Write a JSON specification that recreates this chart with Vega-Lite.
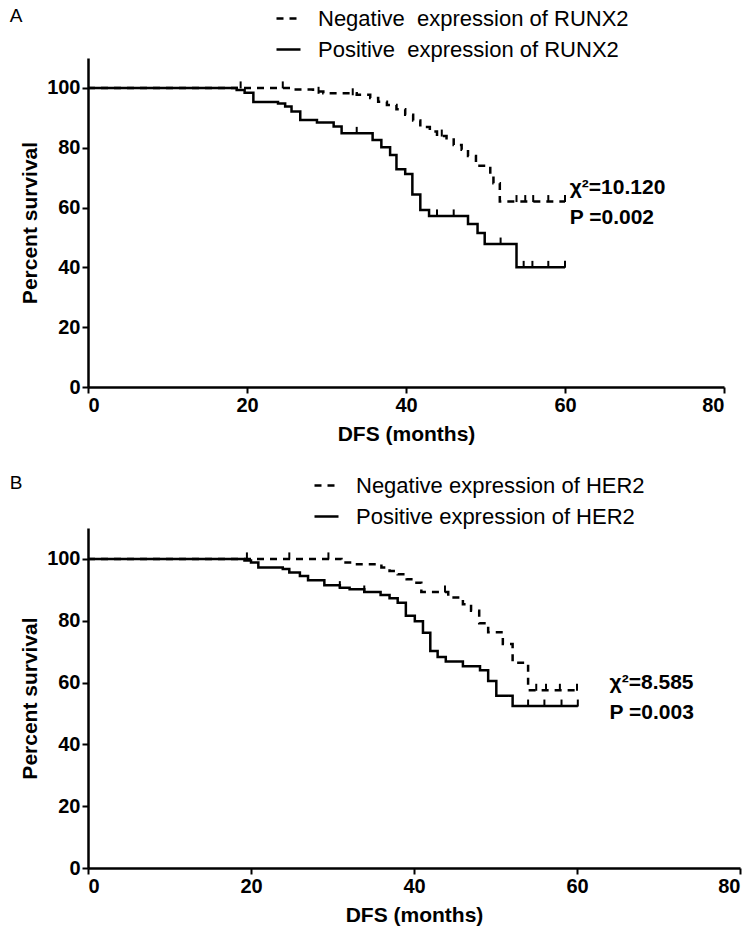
{
  "$schema": "https://vega.github.io/schema/vega-lite/v6.json",
  "padding": {"left": 9, "top": 5, "right": 5, "bottom": 5},
  "background": "white",
  "spacing": 28,
  "resolve": {"scale": {"strokeDash": "independent"}, "legend": {"strokeDash": "independent"}},
  "config": {
    "view": {"stroke": null},
    "font": "Liberation Sans",
    "axis": {
      "domainColor": "black", "domainWidth": 2.5, "tickColor": "black", "tickWidth": 2, "tickSize": 6,
      "labelFont": "Liberation Sans", "labelFontWeight": "bold", "labelFontSize": 20, "labelColor": "black", "labelPadding": 2,
      "titleFont": "Liberation Sans", "titleFontWeight": "bold", "titleFontSize": 21, "titleColor": "black",
      "grid": false
    },
    "legend": {
      "orient": "none", "title": null, "labelFont": "Liberation Sans", "labelFontSize": 22, "labelColor": "black",
      "symbolType": "stroke", "symbolStrokeColor": "black", "symbolStrokeWidth": 2.5, "symbolSize": 576,
      "rowPadding": 6, "labelOffset": 16, "labelLimit": 500
    },
    "title": {"font": "Liberation Sans", "fontSize": 19, "fontWeight": "normal", "color": "black", "anchor": "start", "frame": "bounds"}
  },
  "datasets": {
    "a_curves": [
      {"group": "Negative\u00a0 expression of RUNX2", "t": 0, "s": 100},
      {"group": "Negative\u00a0 expression of RUNX2", "t": 25.8, "s": 99.5},
      {"group": "Negative\u00a0 expression of RUNX2", "t": 28.3, "s": 98.8},
      {"group": "Negative\u00a0 expression of RUNX2", "t": 29.6, "s": 98.2},
      {"group": "Negative\u00a0 expression of RUNX2", "t": 33.8, "s": 97.7},
      {"group": "Negative\u00a0 expression of RUNX2", "t": 35.5, "s": 96.6},
      {"group": "Negative\u00a0 expression of RUNX2", "t": 36.5, "s": 95.4},
      {"group": "Negative\u00a0 expression of RUNX2", "t": 37.6, "s": 94.3},
      {"group": "Negative\u00a0 expression of RUNX2", "t": 38.8, "s": 92.9},
      {"group": "Negative\u00a0 expression of RUNX2", "t": 39.9, "s": 91.0},
      {"group": "Negative\u00a0 expression of RUNX2", "t": 40.9, "s": 89.1},
      {"group": "Negative\u00a0 expression of RUNX2", "t": 41.8, "s": 86.9},
      {"group": "Negative\u00a0 expression of RUNX2", "t": 43.0, "s": 85.4},
      {"group": "Negative\u00a0 expression of RUNX2", "t": 43.9, "s": 83.9},
      {"group": "Negative\u00a0 expression of RUNX2", "t": 45.1, "s": 83.2},
      {"group": "Negative\u00a0 expression of RUNX2", "t": 46.0, "s": 80.9},
      {"group": "Negative\u00a0 expression of RUNX2", "t": 47.0, "s": 79.3},
      {"group": "Negative\u00a0 expression of RUNX2", "t": 47.8, "s": 77.2},
      {"group": "Negative\u00a0 expression of RUNX2", "t": 48.8, "s": 74.0},
      {"group": "Negative\u00a0 expression of RUNX2", "t": 50.6, "s": 71.0},
      {"group": "Negative\u00a0 expression of RUNX2", "t": 51.0, "s": 68.1},
      {"group": "Negative\u00a0 expression of RUNX2", "t": 51.8, "s": 62.0},
      {"group": "Negative\u00a0 expression of RUNX2", "t": 60.0, "s": 62.0},
      {"group": "Positive\u00a0 expression of RUNX2", "t": 0, "s": 100},
      {"group": "Positive\u00a0 expression of RUNX2", "t": 18.7, "s": 99.3},
      {"group": "Positive\u00a0 expression of RUNX2", "t": 19.7, "s": 98.4},
      {"group": "Positive\u00a0 expression of RUNX2", "t": 20.8, "s": 95.3},
      {"group": "Positive\u00a0 expression of RUNX2", "t": 23.9, "s": 94.8},
      {"group": "Positive\u00a0 expression of RUNX2", "t": 24.8, "s": 93.8},
      {"group": "Positive\u00a0 expression of RUNX2", "t": 25.6, "s": 92.1},
      {"group": "Positive\u00a0 expression of RUNX2", "t": 26.7, "s": 89.3},
      {"group": "Positive\u00a0 expression of RUNX2", "t": 28.8, "s": 88.4},
      {"group": "Positive\u00a0 expression of RUNX2", "t": 30.9, "s": 87.1},
      {"group": "Positive\u00a0 expression of RUNX2", "t": 31.9, "s": 84.8},
      {"group": "Positive\u00a0 expression of RUNX2", "t": 35.8, "s": 82.6},
      {"group": "Positive\u00a0 expression of RUNX2", "t": 36.9, "s": 80.2},
      {"group": "Positive\u00a0 expression of RUNX2", "t": 38.0, "s": 77.6},
      {"group": "Positive\u00a0 expression of RUNX2", "t": 38.8, "s": 72.8},
      {"group": "Positive\u00a0 expression of RUNX2", "t": 39.9, "s": 71.2},
      {"group": "Positive\u00a0 expression of RUNX2", "t": 40.8, "s": 64.4},
      {"group": "Positive\u00a0 expression of RUNX2", "t": 41.8, "s": 59.2},
      {"group": "Positive\u00a0 expression of RUNX2", "t": 42.9, "s": 57.2},
      {"group": "Positive\u00a0 expression of RUNX2", "t": 47.8, "s": 54.5},
      {"group": "Positive\u00a0 expression of RUNX2", "t": 49.0, "s": 51.5},
      {"group": "Positive\u00a0 expression of RUNX2", "t": 49.9, "s": 47.8},
      {"group": "Positive\u00a0 expression of RUNX2", "t": 53.9, "s": 40.0},
      {"group": "Positive\u00a0 expression of RUNX2", "t": 60.0, "s": 40.0}
    ],
    "a_censor": [
      {"t": 19.2, "s": 100}, {"t": 24.5, "s": 100}, {"t": 29.0, "s": 98.2}, {"t": 33.3, "s": 97.7}, {"t": 44.5, "s": 83.9},
      {"t": 53.9, "s": 62}, {"t": 55.0, "s": 62}, {"t": 56.0, "s": 62}, {"t": 57.9, "s": 62}, {"t": 60.0, "s": 62},
      {"t": 33.8, "s": 84.8}, {"t": 43.9, "s": 57.2}, {"t": 46.0, "s": 57.2}, {"t": 51.9, "s": 47.8},
      {"t": 54.8, "s": 40}, {"t": 55.9, "s": 40}, {"t": 57.9, "s": 40}, {"t": 60.0, "s": 40}
    ],
    "b_curves": [
      {"group": "Negative expression of HER2", "t": 0, "s": 100},
      {"group": "Negative expression of HER2", "t": 31.1, "s": 98.8},
      {"group": "Negative expression of HER2", "t": 32.7, "s": 98.3},
      {"group": "Negative expression of HER2", "t": 36.0, "s": 97.2},
      {"group": "Negative expression of HER2", "t": 37.0, "s": 96.1},
      {"group": "Negative expression of HER2", "t": 38.0, "s": 95.0},
      {"group": "Negative expression of HER2", "t": 39.1, "s": 93.4},
      {"group": "Negative expression of HER2", "t": 40.1, "s": 92.3},
      {"group": "Negative expression of HER2", "t": 40.9, "s": 89.3},
      {"group": "Negative expression of HER2", "t": 44.2, "s": 87.5},
      {"group": "Negative expression of HER2", "t": 46.0, "s": 85.3},
      {"group": "Negative expression of HER2", "t": 47.0, "s": 83.2},
      {"group": "Negative expression of HER2", "t": 48.0, "s": 79.2},
      {"group": "Negative expression of HER2", "t": 49.1, "s": 76.3},
      {"group": "Negative expression of HER2", "t": 50.9, "s": 72.5},
      {"group": "Negative expression of HER2", "t": 52.1, "s": 66.4},
      {"group": "Negative expression of HER2", "t": 54.0, "s": 57.5},
      {"group": "Negative expression of HER2", "t": 60.0, "s": 57.5},
      {"group": "Positive expression of HER2", "t": 0, "s": 100},
      {"group": "Positive expression of HER2", "t": 19.2, "s": 99.5},
      {"group": "Positive expression of HER2", "t": 20.0, "s": 98.8},
      {"group": "Positive expression of HER2", "t": 20.9, "s": 97.2},
      {"group": "Positive expression of HER2", "t": 23.9, "s": 96.7},
      {"group": "Positive expression of HER2", "t": 24.7, "s": 95.6},
      {"group": "Positive expression of HER2", "t": 26.0, "s": 94.5},
      {"group": "Positive expression of HER2", "t": 27.0, "s": 93.1},
      {"group": "Positive expression of HER2", "t": 29.0, "s": 91.5},
      {"group": "Positive expression of HER2", "t": 30.9, "s": 90.7},
      {"group": "Positive expression of HER2", "t": 32.1, "s": 90.2},
      {"group": "Positive expression of HER2", "t": 33.9, "s": 89.3},
      {"group": "Positive expression of HER2", "t": 35.9, "s": 88.3},
      {"group": "Positive expression of HER2", "t": 37.0, "s": 87.3},
      {"group": "Positive expression of HER2", "t": 38.0, "s": 85.8},
      {"group": "Positive expression of HER2", "t": 39.0, "s": 81.6},
      {"group": "Positive expression of HER2", "t": 40.1, "s": 79.8},
      {"group": "Positive expression of HER2", "t": 41.1, "s": 76.1},
      {"group": "Positive expression of HER2", "t": 42.0, "s": 70.2},
      {"group": "Positive expression of HER2", "t": 42.9, "s": 68.3},
      {"group": "Positive expression of HER2", "t": 43.9, "s": 66.8},
      {"group": "Positive expression of HER2", "t": 46.0, "s": 65.3},
      {"group": "Positive expression of HER2", "t": 48.1, "s": 64.0},
      {"group": "Positive expression of HER2", "t": 49.1, "s": 60.5},
      {"group": "Positive expression of HER2", "t": 50.1, "s": 55.7},
      {"group": "Positive expression of HER2", "t": 52.1, "s": 52.4},
      {"group": "Positive expression of HER2", "t": 60.1, "s": 52.4}
    ],
    "b_censor": [
      {"t": 19.5, "s": 100}, {"t": 24.7, "s": 100}, {"t": 29.5, "s": 100}, {"t": 43.8, "s": 89.3},
      {"t": 55.0, "s": 57.5}, {"t": 56.2, "s": 57.5}, {"t": 57.9, "s": 57.5}, {"t": 60.0, "s": 57.5},
      {"t": 30.9, "s": 90.7}, {"t": 33.9, "s": 89.3},
      {"t": 54.0, "s": 52.4}, {"t": 56.0, "s": 52.4}, {"t": 58.1, "s": 52.4}, {"t": 60.1, "s": 52.4}
    ]
  },
  "vconcat": [
    {
      "width": 636, "height": 329,
      "title": {"text": "A", "offset": -21, "dx": -10},
      "layer": [
        {
          "data": {"name": "a_curves"},
          "mark": {"type": "line", "interpolate": "step-after", "strokeWidth": 2.5, "color": "black"},
          "encoding": {
            "x": {"field": "t", "type": "quantitative", "scale": {"domain": [0, 80], "nice": false},
                  "axis": {"values": [0, 20, 40, 60, 80], "title": "DFS (months)", "titlePadding": 8}},
            "y": {"field": "s", "type": "quantitative", "scale": {"domain": [0, 110], "nice": false},
                  "axis": {"values": [0, 20, 40, 60, 80, 100], "title": "Percent survival", "titlePadding": 6}},
            "strokeDash": {"field": "group", "type": "nominal",
              "scale": {"domain": ["Negative\u00a0 expression of RUNX2", "Positive\u00a0 expression of RUNX2"], "range": [[7, 6], [1, 0]]},
              "legend": {"legendX": 187, "legendY": -53}}
          }
        },
        {
          "data": {"name": "a_censor"},
          "mark": {"type": "tick", "orient": "vertical", "size": 7, "thickness": 2, "color": "black", "opacity": 1, "yOffset": -3},
          "encoding": {
            "x": {"field": "t", "type": "quantitative"},
            "y": {"field": "s", "type": "quantitative"}
          }
        },
        {
          "data": {"values": [{}]},
          "mark": {"type": "text", "text": "χ²=10.120", "align": "left", "baseline": "middle", "fontSize": 21, "fontWeight": "bold", "color": "black"},
          "encoding": {"x": {"datum": 60.6}, "y": {"datum": 66.6}}
        },
        {
          "data": {"values": [{}]},
          "mark": {"type": "text", "text": "P =0.002", "align": "left", "baseline": "middle", "fontSize": 21, "fontWeight": "bold", "color": "black"},
          "encoding": {"x": {"datum": 60.6}, "y": {"datum": 56.5}}
        }
      ]
    },
    {
      "width": 652, "height": 340,
      "title": {"text": "B", "offset": -21, "dx": -10},
      "layer": [
        {
          "data": {"name": "b_curves"},
          "mark": {"type": "line", "interpolate": "step-after", "strokeWidth": 2.5, "color": "black"},
          "encoding": {
            "x": {"field": "t", "type": "quantitative", "scale": {"domain": [0, 80], "nice": false},
                  "axis": {"values": [0, 20, 40, 60, 80], "title": "DFS (months)", "titlePadding": 8}},
            "y": {"field": "s", "type": "quantitative", "scale": {"domain": [0, 110], "nice": false},
                  "axis": {"values": [0, 20, 40, 60, 80, 100], "title": "Percent survival", "titlePadding": 6}},
            "strokeDash": {"field": "group", "type": "nominal",
              "scale": {"domain": ["Negative expression of HER2", "Positive expression of HER2"], "range": [[7, 6], [1, 0]]},
              "legend": {"legendX": 225, "legendY": -56}}
          }
        },
        {
          "data": {"name": "b_censor"},
          "mark": {"type": "tick", "orient": "vertical", "size": 7, "thickness": 2, "color": "black", "opacity": 1, "yOffset": -3},
          "encoding": {
            "x": {"field": "t", "type": "quantitative"},
            "y": {"field": "s", "type": "quantitative"}
          }
        },
        {
          "data": {"values": [{}]},
          "mark": {"type": "text", "text": "χ²=8.585", "align": "left", "baseline": "middle", "fontSize": 21, "fontWeight": "bold", "color": "black"},
          "encoding": {"x": {"datum": 64.0}, "y": {"datum": 59.9}}
        },
        {
          "data": {"values": [{}]},
          "mark": {"type": "text", "text": "P =0.003", "align": "left", "baseline": "middle", "fontSize": 21, "fontWeight": "bold", "color": "black"},
          "encoding": {"x": {"datum": 64.0}, "y": {"datum": 50.2}}
        }
      ]
    }
  ]
}
